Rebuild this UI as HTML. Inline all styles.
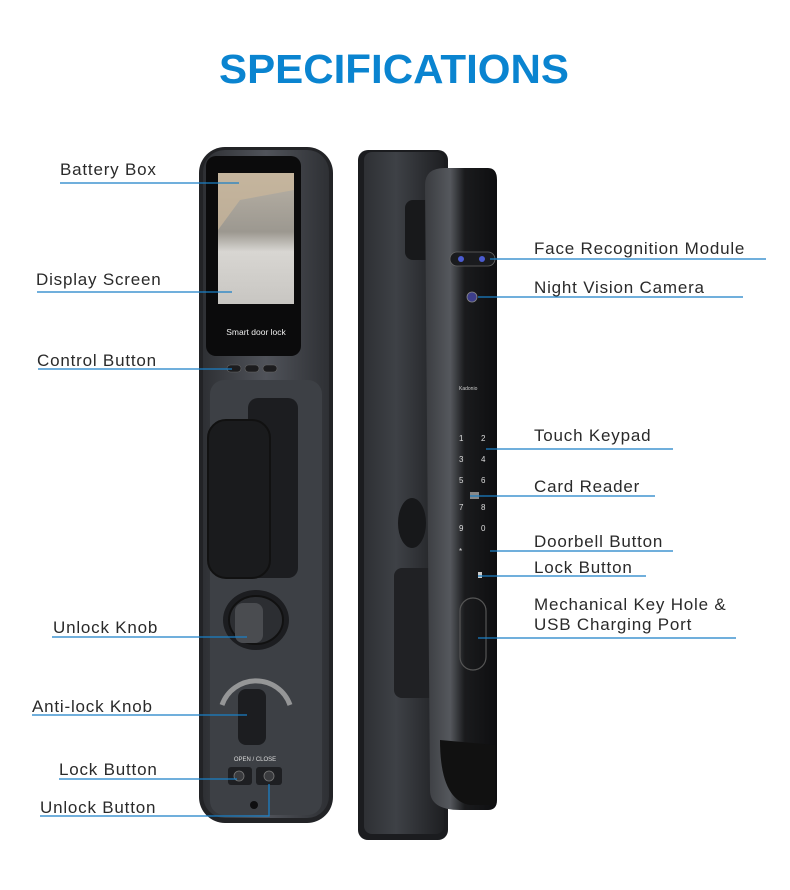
<!DOCTYPE html>
<html><head><meta charset="utf-8"><style>
html,body{margin:0;padding:0;background:#fff;width:790px;height:890px;overflow:hidden}
svg{display:block}
.l{font-family:"Liberation Sans",sans-serif;font-size:17px;fill:#2a2a2a;letter-spacing:0.8px}
.ln{stroke:#1a7fc6;stroke-width:1.3;fill:none}
</style></head><body>
<svg width="790" height="890" viewBox="0 0 790 890" xmlns="http://www.w3.org/2000/svg">
<defs>
<linearGradient id="fb" x1="0" x2="1"><stop offset="0" stop-color="#2e3034"/><stop offset="0.5" stop-color="#50535a"/><stop offset="1" stop-color="#2e3034"/></linearGradient>
<linearGradient id="bk" x1="0" x2="1"><stop offset="0" stop-color="#2e3034"/><stop offset="0.4" stop-color="#3e4146"/><stop offset="1" stop-color="#1e1f22"/></linearGradient>
<linearGradient id="fr" x1="0" x2="1"><stop offset="0" stop-color="#3a3c40"/><stop offset="0.35" stop-color="#55585d"/><stop offset="0.55" stop-color="#1a1b1d"/><stop offset="1" stop-color="#0e0e10"/></linearGradient>
<linearGradient id="scr" x1="0" y1="0" x2="0" y2="1"><stop offset="0" stop-color="#b9b2a6"/><stop offset="0.45" stop-color="#9c9890"/><stop offset="0.6" stop-color="#d8d6d2"/><stop offset="1" stop-color="#c8c6c2"/></linearGradient>
</defs>
<text x="394" y="83" text-anchor="middle" font-family="Liberation Sans,sans-serif" font-weight="bold" font-size="41" fill="#0a84d0" textLength="350" lengthAdjust="spacingAndGlyphs">SPECIFICATIONS</text>

<!-- front lock -->
<rect x="199" y="147" width="134" height="676" rx="26" fill="#222326"/>
<rect x="203" y="150" width="126" height="668" rx="22" fill="url(#fb)"/>
<rect x="206" y="156" width="95" height="200" rx="10" fill="#0b0b0c"/>
<rect x="218" y="173" width="76" height="131" fill="url(#scr)"/>
<polygon points="218,173 294,173 294,190 240,200 218,230" fill="#cbb79a" opacity="0.7"/>
<text x="256" y="335" text-anchor="middle" font-family="Liberation Sans,sans-serif" font-size="8.5" fill="#eee">Smart door lock</text>
<rect x="227" y="365" width="14" height="7" rx="3.5" fill="#1c1c1e" stroke="#666" stroke-width="0.6"/>
<rect x="245" y="365" width="14" height="7" rx="3.5" fill="#1c1c1e" stroke="#666" stroke-width="0.6"/>
<rect x="263" y="365" width="14" height="7" rx="3.5" fill="#1c1c1e" stroke="#666" stroke-width="0.6"/>
<rect x="210" y="380" width="112" height="435" rx="14" fill="#3d4045"/>
<rect x="248" y="398" width="50" height="180" rx="10" fill="#1c1d20"/>
<rect x="208" y="420" width="62" height="158" rx="18" fill="#1a1b1d" stroke="#111" stroke-width="2"/>
<ellipse cx="256" cy="620" rx="33" ry="30" fill="#1c1d20"/>
<ellipse cx="256" cy="620" rx="27" ry="24" fill="#2c2e32" stroke="#111" stroke-width="2"/>
<rect x="235" y="603" width="28" height="40" rx="8" fill="#4a4c50"/>
<path d="M222 705 A36 36 0 0 1 290 705" stroke="#bbb" stroke-width="5" fill="none" opacity="0.7"/>
<rect x="238" y="689" width="28" height="56" rx="8" fill="#1c1d20"/>
<text x="255" y="761" text-anchor="middle" font-family="Liberation Sans,sans-serif" font-size="6" fill="#ddd">OPEN / CLOSE</text>
<rect x="228" y="767" width="24" height="18" rx="3" fill="#1e1f22"/>
<rect x="256" y="767" width="26" height="18" rx="3" fill="#1e1f22"/>
<circle cx="239" cy="776" r="5" fill="#3a3b3e" stroke="#777" stroke-width="0.8"/>
<circle cx="269" cy="776" r="5" fill="#3a3b3e" stroke="#777" stroke-width="0.8"/>
<circle cx="254" cy="805" r="4" fill="#0e0e10"/>

<!-- side lock -->
<rect x="358" y="150" width="90" height="690" rx="10" fill="#1b1c1f"/>
<rect x="364" y="152" width="80" height="682" rx="8" fill="url(#bk)"/>
<rect x="405" y="200" width="40" height="60" rx="8" fill="#18191b"/>
<ellipse cx="412" cy="523" rx="14" ry="25" fill="#17181a"/>
<rect x="394" y="568" width="44" height="130" rx="8" fill="#202124"/>
<path d="M425 185 Q425 168 445 168 L488 168 Q497 168 497 180 L497 800 Q497 810 488 810 L460 810 Q430 810 430 790 Z" fill="url(#fr)"/>
<path d="M440 740 Q440 800 470 805 L495 805 L495 745 Z" fill="#111"/>
<rect x="450" y="252" width="45" height="14" rx="7" fill="#1a1b1e" stroke="#666" stroke-width="0.8"/>
<circle cx="461" cy="259" r="3" fill="#4b5bd0"/><circle cx="482" cy="259" r="3" fill="#4b5bd0"/>
<circle cx="472" cy="297" r="5" fill="#3d3e8a" stroke="#888" stroke-width="0.8"/>
<text x="459" y="390" font-family="Liberation Sans,sans-serif" font-size="5" fill="#ccc">Kadonio</text>
<g font-family="Liberation Sans,sans-serif" font-size="8" fill="#ddd">
<text x="459" y="441">1</text><text x="481" y="441">2</text>
<text x="459" y="462">3</text><text x="481" y="462">4</text>
<text x="459" y="483">5</text><text x="481" y="483">6</text>
<text x="459" y="510">7</text><text x="481" y="510">8</text>
<text x="459" y="531">9</text><text x="481" y="531">0</text>
<text x="459" y="554">*</text>
</g>
<rect x="470" y="492" width="9" height="7" fill="#888"/>
<rect x="478" y="572" width="4" height="6" fill="#ccc"/>
<rect x="460" y="598" width="26" height="72" rx="13" fill="none" stroke="#555" stroke-width="1.2"/>

<!-- labels -->
<g class="l">
<text x="60" y="175">Battery Box</text>
<text x="36" y="285">Display Screen</text>
<text x="37" y="366">Control Button</text>
<text x="53" y="633">Unlock Knob</text>
<text x="32" y="712">Anti-lock Knob</text>
<text x="59" y="775">Lock Button</text>
<text x="40" y="813">Unlock Button</text>
<text x="534" y="254">Face Recognition Module</text>
<text x="534" y="293">Night Vision Camera</text>
<text x="534" y="441">Touch Keypad</text>
<text x="534" y="492">Card Reader</text>
<text x="534" y="547">Doorbell Button</text>
<text x="534" y="573">Lock Button</text>
<text x="534" y="610">Mechanical Key Hole &amp;</text>
<text x="534" y="630">USB Charging Port</text>
</g>
<g class="ln">
<path d="M60 183H239"/><path d="M37 292H232"/><path d="M38 369H232"/>
<path d="M52 637H247"/><path d="M32 715H247"/><path d="M59 779H237"/>
<path d="M40 816H269V784"/>
<path d="M490 259H766"/><path d="M478 297H743"/><path d="M486 449H673"/>
<path d="M470 496H655"/><path d="M490 551H673"/><path d="M478 576H646"/>
<path d="M478 638H736"/>
</g>
</svg>
</body></html>
